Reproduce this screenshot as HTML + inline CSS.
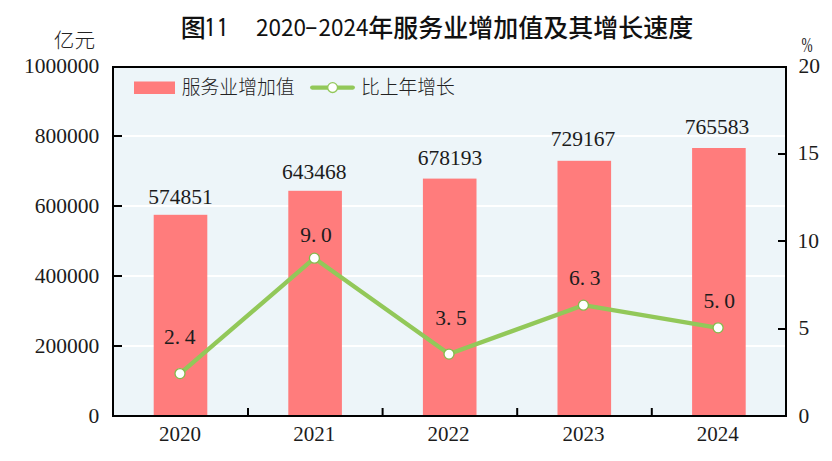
<!DOCTYPE html>
<html lang="zh-CN">
<head>
<meta charset="utf-8">
<title>图11 2020-2024年服务业增加值及其增长速度</title>
<style>
html,body{margin:0;padding:0;background:#fff;}
body{width:832px;height:461px;overflow:hidden;}
svg{display:block;}
.num{font-family:"Liberation Serif","Noto Serif CJK SC",serif;font-size:21.5px;fill:#1c1c1c;}
.cjk{font-family:"Liberation Sans","Noto Sans CJK SC",sans-serif;fill:#222;}
.title{font-family:"Noto Sans CJK SC",sans-serif;font-size:25px;font-weight:500;fill:#111;}
</style>
</head>
<body>
<svg width="832" height="461" viewBox="0 0 832 461">
  <rect x="0" y="0" width="832" height="461" fill="#fff"/>
  <!-- title -->
  <text class="title" y="36.8"><tspan x="180.7">图</tspan><tspan x="203.9 216.4" style="font-family:IPAGothic;font-weight:400">11</tspan><tspan x="230.7">　</tspan><tspan x="255.9 268.4 280.9 293.4" y="36.3" style="font-size:22.5px;font-weight:400">2020</tspan><tspan x="304.9" y="37.7" style="font-family:IPAGothic;font-weight:400">-</tspan><tspan x="318.4 330.9 343.4 355.9" y="36.3" style="font-size:22.5px;font-weight:400">2024</tspan><tspan x="368.2" y="36.8">年服务业增加值及其增长速度</tspan></text>
  <!-- unit labels -->
  <text class="cjk" x="53.8" y="48.3" style="font-size:20.6px;font-weight:300">亿元</text>
  <text class="num" transform="translate(801.6 51.6) scale(0.62 1)" x="0" y="0">%</text>

  <!-- plot background -->
  <rect x="113" y="67" width="673" height="349" fill="#edf5f9"/>
  <!-- gridlines -->
  <g stroke="#ffffff" stroke-width="2">
    <line x1="114" y1="136" x2="785" y2="136"/>
    <line x1="114" y1="206" x2="785" y2="206"/>
    <line x1="114" y1="276" x2="785" y2="276"/>
    <line x1="114" y1="346" x2="785" y2="346"/>
  </g>
  <!-- bars -->
  <g fill="#ff7c7c">
    <rect x="153.7" y="214.8" width="53.6" height="201.2"/>
    <rect x="288.3" y="190.8" width="53.6" height="225.2"/>
    <rect x="422.9" y="178.6" width="53.6" height="237.4"/>
    <rect x="557.5" y="160.8" width="53.6" height="255.2"/>
    <rect x="692.1" y="148.0" width="53.6" height="268.0"/>
  </g>
  <!-- frame -->
  <rect x="113" y="67" width="673" height="349" fill="none" stroke="#000" stroke-width="2"/>
  <!-- ticks -->
  <g stroke="#000" stroke-width="2">
    <line x1="114" y1="136" x2="122" y2="136"/>
    <line x1="114" y1="206" x2="122" y2="206"/>
    <line x1="114" y1="276" x2="122" y2="276"/>
    <line x1="114" y1="346" x2="122" y2="346"/>
    <line x1="785" y1="154" x2="778" y2="154"/>
    <line x1="785" y1="241" x2="778" y2="241"/>
    <line x1="785" y1="329" x2="778" y2="329"/>
    <line x1="248" y1="415" x2="248" y2="408"/>
    <line x1="382.6" y1="415" x2="382.6" y2="408"/>
    <line x1="517.2" y1="415" x2="517.2" y2="408"/>
    <line x1="651.8" y1="415" x2="651.8" y2="408"/>
  </g>

  <!-- legend -->
  <rect x="134" y="81.5" width="41" height="12.5" fill="#ff7c7c"/>
  <text class="cjk" x="181.8" y="94.4" style="font-size:18.8px;font-weight:300">服务业增加值</text>
  <line x1="312.2" y1="87.6" x2="352.8" y2="87.6" stroke="#92c859" stroke-width="4.3" stroke-linecap="round"/>
  <circle cx="332.6" cy="87.6" r="4.9" fill="#fff" stroke="#92c859" stroke-width="1.3"/>
  <text class="cjk" x="361" y="94.4" style="font-size:18.8px;font-weight:300">比上年增长</text>

  <!-- line series -->
  <polyline points="180,373.6 314.4,258.2 449,354.1 583.4,305.2 718.1,327.8" fill="none" stroke="#92c859" stroke-width="4.3" stroke-linejoin="round"/>
  <g fill="#fff" stroke="#84bb4c" stroke-width="1.3">
    <circle cx="180" cy="373.6" r="5"/>
    <circle cx="314.4" cy="258.2" r="5"/>
    <circle cx="449" cy="354.1" r="5"/>
    <circle cx="583.4" cy="305.2" r="5"/>
    <circle cx="718.1" cy="327.8" r="5"/>
  </g>

  <!-- left axis labels -->
  <g class="num" text-anchor="end">
    <text x="99.2" y="73">1000000</text>
    <text x="99.2" y="143">800000</text>
    <text x="99.2" y="213">600000</text>
    <text x="99.2" y="283">400000</text>
    <text x="99.2" y="353">200000</text>
    <text x="99.2" y="423">0</text>
  </g>
  <!-- right axis labels -->
  <g class="num">
    <text x="798.4" y="72.8">20</text>
    <text x="797.5" y="160.2">15</text>
    <text x="797.4" y="247.7">10</text>
    <text x="798.4" y="334.6">5</text>
    <text x="798.5" y="422.9">0</text>
  </g>
  <!-- x labels -->
  <g class="num" text-anchor="middle" style="font-size:21px">
    <text x="179.9" y="441.2">2020</text>
    <text x="314.2" y="441.2">2021</text>
    <text x="448.4" y="441.2">2022</text>
    <text x="583.6" y="441.2">2023</text>
    <text x="717.8" y="441.2">2024</text>
  </g>
  <!-- value labels -->
  <rect x="552.6" y="130" width="60.8" height="17" fill="#edf5f9"/>
  <g class="num" text-anchor="middle">
    <text x="180.6" y="204">574851</text>
    <text x="314.3" y="178.8">643468</text>
    <text x="450" y="164.8">678193</text>
    <text x="583" y="146.1">729167</text>
    <text x="716.9" y="133.9">765583</text>
  </g>
  <!-- percent labels -->
  <g class="num">
    <text x="164" y="343.8">2.<tspan dx="4.6">4</tspan></text>
    <text x="300.3" y="241.9">9.<tspan dx="4.6">0</tspan></text>
    <text x="435.3" y="324.8">3.<tspan dx="4.6">5</tspan></text>
    <text x="569" y="284.8">6.<tspan dx="4.6">3</tspan></text>
    <text x="703.5" y="307.7">5.<tspan dx="4.6">0</tspan></text>
  </g>
</svg>
</body>
</html>
